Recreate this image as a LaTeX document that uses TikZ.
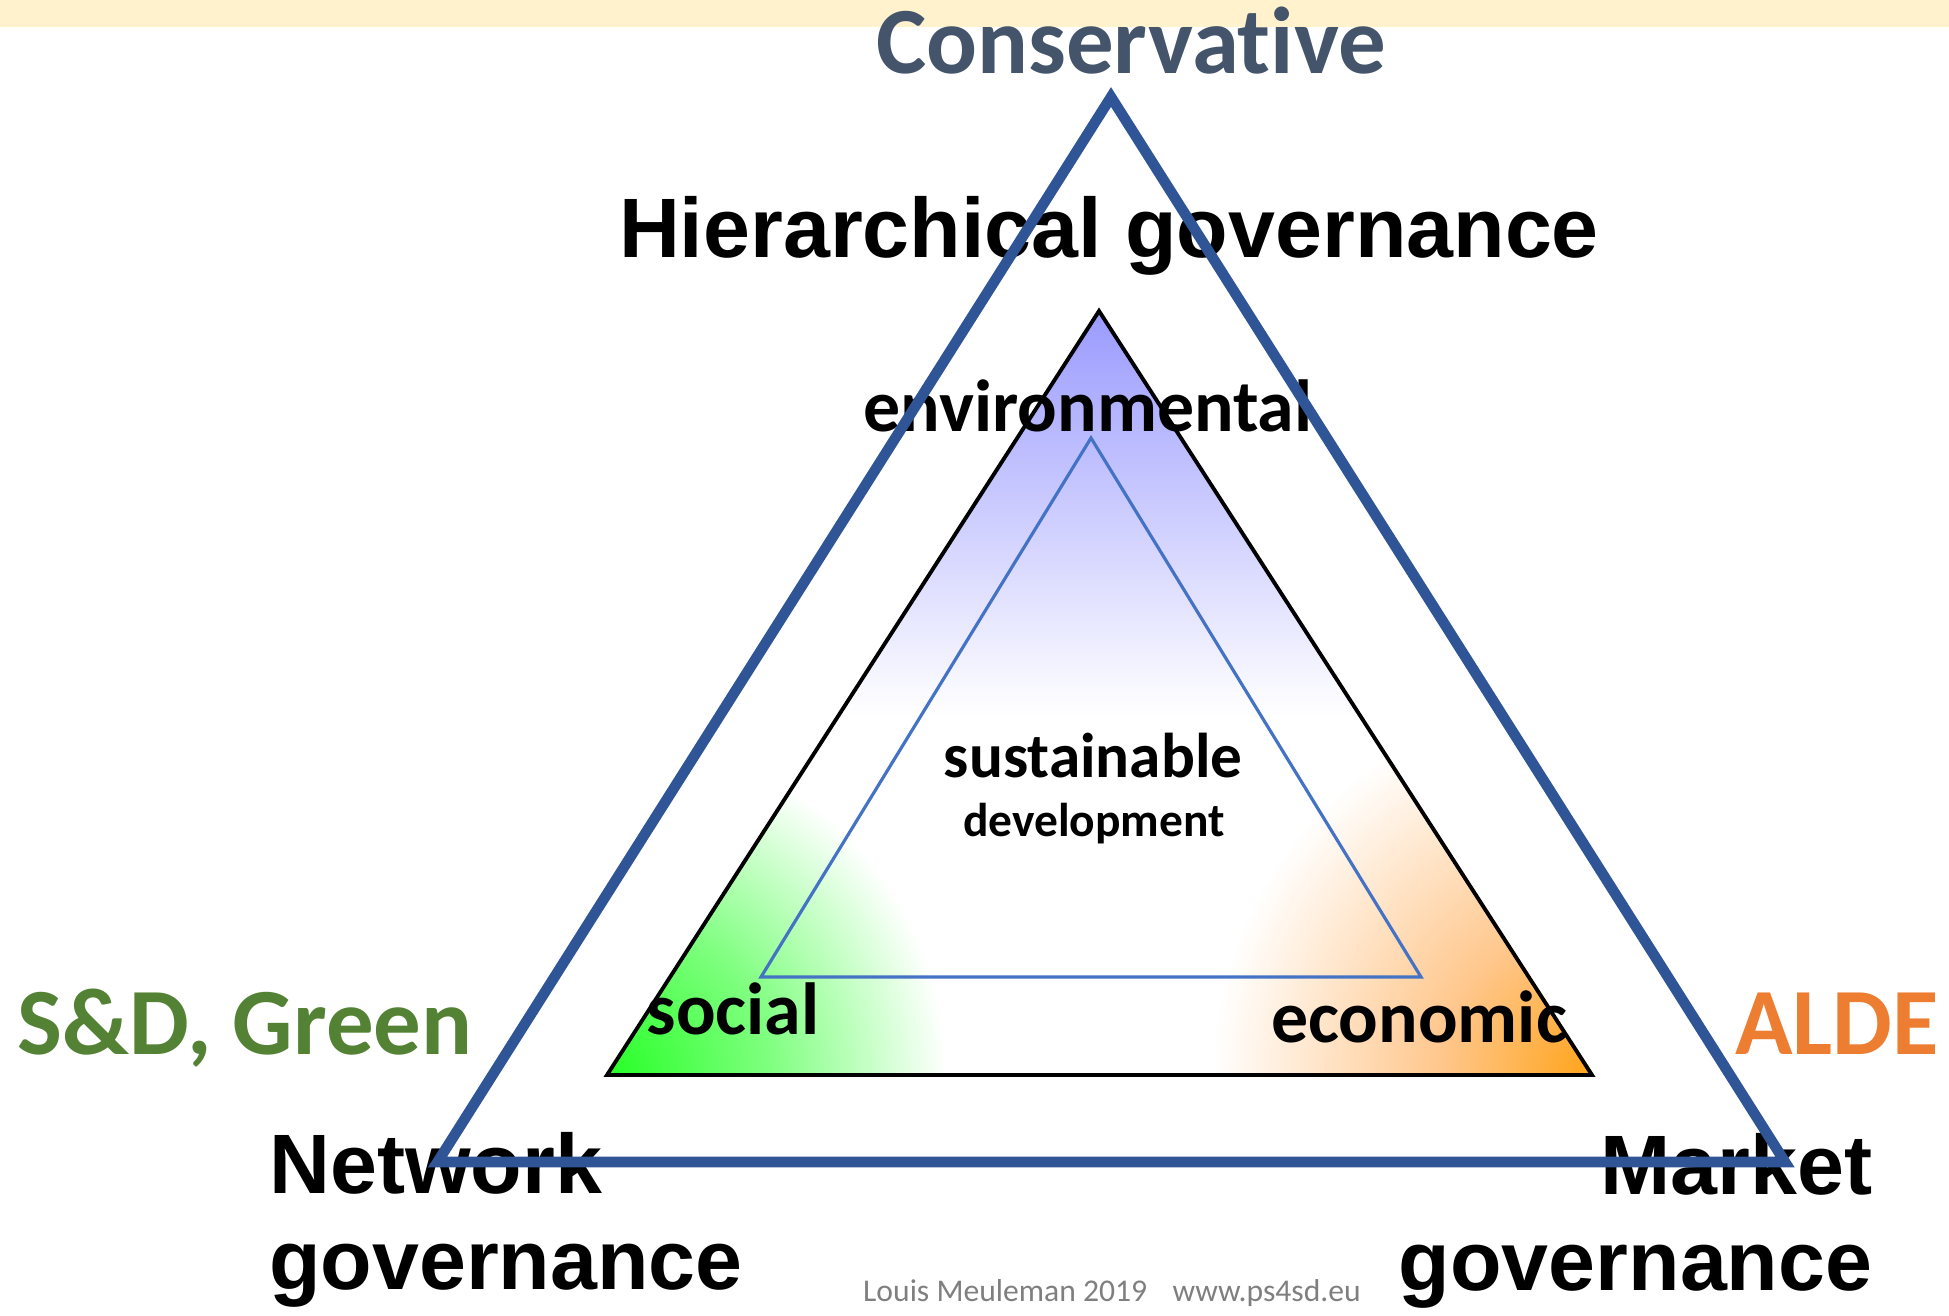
\documentclass[tikz,border=0pt]{standalone}
\usepackage{fontspec}
\setmainfont{Carlito}[Ligatures=NoCommon]
\newfontfamily\arialfont{Liberation Sans}
\usetikzlibrary{positioning}
\definecolor{band}{HTML}{FFF2CC}
\definecolor{cons}{HTML}{44546A}
\definecolor{sdg}{HTML}{548235}
\definecolor{alde}{HTML}{ED7D31}
\definecolor{govblue}{HTML}{2F5597}
\definecolor{pillar}{HTML}{4472C4}
\definecolor{envblue}{HTML}{9999FF}
\definecolor{credit}{HTML}{7F7F7F}
% corner glows of the sustainability triangle
\pgfdeclareradialshading{greenglow}{\pgfpointorigin}{rgb(0bp)=(0.15,1,0.15); rgb(12bp)=(0.5,1,0.5); rgb(25bp)=(1,1,1); rgb(50bp)=(1,1,1)}
\pgfdeclareradialshading{orangeglow}{\pgfpointorigin}{rgb(0bp)=(1,0.64,0.1); rgb(10bp)=(1,0.78,0.55); rgb(25bp)=(1,1,1); rgb(50bp)=(1,1,1)}
\tikzset{
    %Define style for party labels
    party/.style={
        font=\bfseries\fontsize{27}{30}\selectfont,
        anchor=base,
        inner sep=0pt
    },
    %Define style for governance labels
    gov/.style={
        font=\arialfont\bfseries\fontsize{24}{27}\selectfont,
        inner sep=0pt
    },
    pillarlabel/.style={
        font=\bfseries\fontsize{21}{24}\selectfont,
        anchor=base,
        inner sep=0pt
    },
    % Define line styles
    govtri/.style={
        draw=govblue,
        line width=3pt
    },
    sdtri/.style={
        draw=black,
        line width=1.1pt
    },
    pillartri/.style={
        draw=pillar,
        line width=0.9pt
    },
}
\begin{document}
\begin{tikzpicture}
\useasboundingbox (0,0) rectangle (19.49,13.15);
\fill[band] (0,12.88) rectangle (19.49,13.15);
%corners
\coordinate (govtop) at (11.11,12.18);
\coordinate (govleft) at (4.375,1.53);
\coordinate (govright) at (17.85,1.53);
\coordinate (sdtop) at (10.99,10.04);
\coordinate (sdleft) at (6.07,2.40);
\coordinate (sdright) at (15.92,2.40);
\coordinate (pilltop) at (10.91,8.77);
\coordinate (pillleft) at (7.61,3.38);
\coordinate (pillright) at (14.21,3.38);
%fill
\begin{scope}
\clip (sdtop) -- (sdleft) -- (sdright) -- cycle;
\fill[white] (sdtop) -- (sdleft) -- (sdright) -- cycle;
\shade[top color=envblue, bottom color=white] (5.5,10.1) rectangle (16.5,6.0);
\shade[shading=greenglow] (sdleft) circle (3.4);
\shade[shading=orangeglow] (sdright) circle (3.8);
\end{scope}
\draw[sdtri] (sdtop) -- (sdleft) -- (sdright) -- cycle;
\draw[pillartri] (pilltop) -- (pillleft) -- (pillright) -- cycle;
%labels
\node[party, text=cons] (cons) at (11.31,12.42) {Conservative};
\node[party, text=sdg] (sdgreen) at (2.45,2.61) {S\&D, Green};
\node[party, text=alde] (alde) at (18.37,2.61) {ALDE};
\node[gov, anchor=base] (hier) at (11.09,10.58) {Hierarchical governance};
\node[gov, anchor=base west] (net) at (2.685,1.22) {Network};
\node[gov, anchor=base west] (netgov) at ([yshift=-9.6mm]net.base west) {governance};
\node[gov, anchor=base east] (mkt) at (18.73,1.205) {Market};
\node[gov, anchor=base east] (mktgov) at ([yshift=-9.6mm]mkt.base east) {governance};
\node[pillarlabel] (env) at (10.88,8.84) {environmental};
\node[pillarlabel] (soc) at (7.33,2.81) {social};
\node[pillarlabel] (eco) at (14.19,2.73) {economic};
\node[pillarlabel, font=\bfseries\fontsize{18}{20}\selectfont] (sust) at (10.93,5.38) {sustainable};
\node[pillarlabel, font=\bfseries\fontsize{13.5}{15}\selectfont] (dev) at (10.94,4.785) {development};
\node[anchor=base, inner sep=0pt, text=credit, font=\fontsize{9}{11}\selectfont] (credit) at (11.12,0.14) {Louis Meuleman 2019\hspace{0.8em}www.ps4sd.eu};
\draw[govtri] (govtop) -- (govleft) -- (govright) -- cycle;
\end{tikzpicture}
\end{document}
